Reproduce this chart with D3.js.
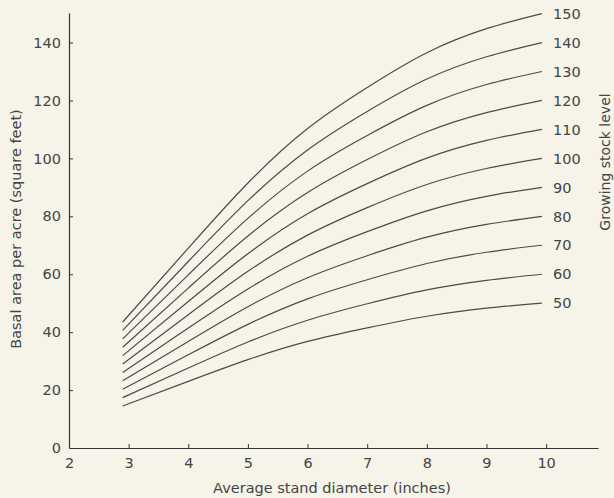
<!DOCTYPE html>
<html>
<head>
<meta charset="utf-8">
<script src="https://cdn.jsdelivr.net/npm/d3@7"></script>
<style>
  html, body { margin: 0; padding: 0; background: #f6f4e9; }
  svg { display: block; }
  text { font-family: "DejaVu Sans", sans-serif; fill: #444; }
</style>
</head>
<body>
<svg id="chart" width="614" height="498"></svg>
<script>
// Average stand diameter (inches) at which each curve is read
const diameters = [2.9, 4, 5, 6, 7, 8, 9, 9.93];

// Growing stock levels (curve labels)
const levels = [50, 60, 70, 80, 90, 100, 110, 120, 130, 140, 150];

// Basal area per acre (square feet), one array per growing stock level
const gsl50  = [14.5, 23.0, 30.5, 36.8, 41.5, 45.5, 48.3, 50];
const gsl60  = [17.4, 27.6, 36.6, 44.1, 49.8, 54.6, 57.9, 60];
const gsl70  = [20.3, 32.2, 42.7, 51.5, 58.1, 63.7, 67.6, 70];
const gsl80  = [23.2, 36.8, 48.8, 58.8, 66.4, 72.8, 77.2, 80];
const gsl90  = [26.1, 41.4, 54.9, 66.2, 74.7, 81.9, 86.9, 90];
const gsl100 = [29.0, 46.0, 61.0, 73.5, 83.0, 91.0, 96.5, 100];
const gsl110 = [31.9, 50.6, 67.1, 80.9, 91.3, 100.1, 106.2, 110];
const gsl120 = [34.8, 55.2, 73.2, 88.2, 99.6, 109.2, 115.8, 120];
const gsl130 = [37.7, 59.8, 79.3, 95.6, 107.9, 118.3, 125.5, 130];
const gsl140 = [40.6, 64.4, 85.4, 102.9, 116.2, 127.4, 135.1, 140];
const gsl150 = [43.5, 69.0, 91.5, 110.3, 124.5, 136.5, 144.8, 150];

const seriesValues = [gsl50, gsl60, gsl70, gsl80, gsl90, gsl100, gsl110, gsl120, gsl130, gsl140, gsl150];

// Tick labels
const xTicks = [2, 3, 4, 5, 6, 7, 8, 9, 10];
const yTicks = [0, 20, 40, 60, 80, 100, 120, 140];

const xTitle = "Average stand diameter (inches)";
const yTitle = "Basal area per acre (square feet)";
const rightTitle = "Growing stock level";

const svg = d3.select("#chart");

const x = d3.scaleLinear().domain([2, 10.87]).range([69, 598]);
const y = d3.scaleLinear().domain([0, 150.2]).range([448, 13]);

// X axis
const gx = svg.append("g")
  .attr("transform", `translate(0,${y(0)})`)
  .call(d3.axisBottom(x).tickValues(xTicks).tickFormat(d3.format("d"))
    .tickSizeInner(-4).tickSizeOuter(0).tickPadding(10));

// Y axis
const gy = svg.append("g")
  .attr("transform", `translate(${x(2)},0)`)
  .call(d3.axisLeft(y).tickValues(yTicks).tickFormat(d3.format("d"))
    .tickSizeInner(-4).tickSizeOuter(0).tickPadding(8));

[gx, gy].forEach(g => {
  g.select(".domain").attr("stroke", "#333").attr("stroke-width", 1.2);
  g.selectAll(".tick line").attr("stroke", "#333").attr("stroke-width", 1);
  g.selectAll(".tick text")
    .attr("font-family", "DejaVu Sans, sans-serif")
    .attr("font-size", 14.5)
    .attr("fill", "#444");
});
gx.selectAll(".tick").filter(d => d === 2).select("line").remove();
gy.selectAll(".tick").filter(d => d === 0).select("line").remove();

// Curves
const line = d3.line()
  .x((d, i) => x(diameters[i]))
  .y(d => y(d))
  .curve(d3.curveNatural);

svg.append("g").selectAll("path")
  .data(seriesValues)
  .join("path")
  .attr("d", d => line(d))
  .attr("fill", "none")
  .attr("stroke", "#4a4a4a")
  .attr("stroke-width", 1.2);

// Curve labels
svg.append("g").selectAll("text")
  .data(levels)
  .join("text")
  .attr("x", x(diameters[diameters.length - 1]) + 11)
  .attr("y", (d, i) => y(seriesValues[i][seriesValues[i].length - 1]))
  .attr("dy", "0.36em")
  .attr("font-size", 14.5)
  .text(d => d);

// Axis titles
svg.append("text")
  .attr("x", 332)
  .attr("y", 493)
  .attr("text-anchor", "middle")
  .attr("font-size", 14.5)
  .text(xTitle);

svg.append("text")
  .attr("transform", "translate(21,229) rotate(-90)")
  .attr("text-anchor", "middle")
  .attr("font-size", 14.5)
  .text(yTitle);

svg.append("text")
  .attr("transform", "translate(610,162) rotate(-90)")
  .attr("text-anchor", "middle")
  .attr("font-size", 14)
  .text(rightTitle);
</script>
</body>
</html>
